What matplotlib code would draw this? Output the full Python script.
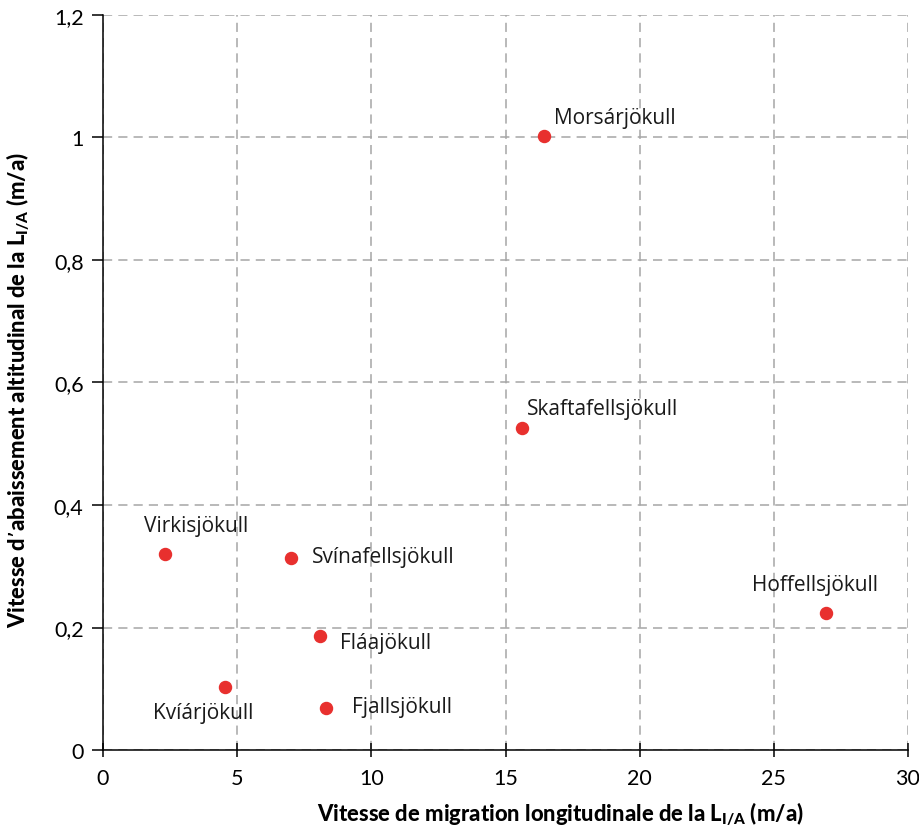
import numpy as np
import matplotlib
matplotlib.use("Agg")
import matplotlib.pyplot as plt
from matplotlib.ticker import FuncFormatter, MultipleLocator

# glaciers : vitesse de migration (m/a) / vitesse d'abaissement (m/a)
glaciers = ["Morsárjökull", "Skaftafellsjökull", "Virkisjökull", "Svínafellsjökull",
            "Fláajökull", "Kvíárjökull", "Fjallsjökull", "Hoffellsjökull"]
migration = [16.45, 15.6, 2.3, 7.0, 8.1, 4.55, 8.3, 26.95]
abaissement = [1.002, 0.526, 0.32, 0.313, 0.186, 0.103, 0.069, 0.224]

# position des etiquettes (decalage en pixels, alignement horizontal)
label_offsets = [(10, 19), (5, 19), (31, 28), (21, 2), (20, -6), (-22, -26), (26, 1), (-11, 28)]
label_ha = ["left", "left", "center", "left", "left", "center", "left", "center"]

fig = plt.figure(figsize=(9.2, 8.29), dpi=100)
ax = fig.add_axes([0.112, 0.094, 0.875, 0.887])

ax.scatter(migration, abaissement, s=75, color="#e8302e", zorder=3, clip_on=False)

for name, x, y, off, ha in zip(glaciers, migration, abaissement, label_offsets, label_ha):
    ax.annotate(name, (x, y), xytext=off, textcoords="offset pixels",
                ha=ha, va="center", fontsize=15, family="Open Sans", color="#1a1a1a")

ax.set_xlim(0, 30)
ax.set_ylim(0, 1.2)
ax.xaxis.set_major_locator(MultipleLocator(5))
ax.yaxis.set_major_locator(MultipleLocator(0.2))

fmt = FuncFormatter(lambda v, p: f"{v:g}".replace(".", ","))
ax.xaxis.set_major_formatter(fmt)
ax.yaxis.set_major_formatter(fmt)

ax.grid(True, color="#a6a6a6", linestyle=(0, (6, 4)), linewidth=1.1)
ax.set_axisbelow(True)
for s in ["top", "right"]:
    ax.spines[s].set_visible(False)
for s in ["left", "bottom"]:
    ax.spines[s].set_color("black")
    ax.spines[s].set_linewidth(1.1)

ax.tick_params(axis="y", direction="out", length=8, width=1.1, labelsize=15.5, pad=6)
ax.tick_params(axis="x", direction="inout", length=10, width=1.1, labelsize=15.5, pad=8)
for lab in ax.get_xticklabels() + ax.get_yticklabels():
    lab.set_family("Lato")

ax.set_xlabel(r"Vitesse de migration longitudinale de la L$_{\mathregular{I/A}}$ (m/a)",
              fontsize=15.8, fontweight="black", family="Lato")
ax.set_ylabel(r"Vitesse d’abaissement altitudinal de la L$_{\mathregular{I/A}}$ (m/a)",
              fontsize=15.8, fontweight="black", family="Lato")
ax.xaxis.set_label_coords(0.568, -0.067)
ax.yaxis.set_label_coords(-0.088, 0.491)

fig.savefig("out.png", dpi=100)
